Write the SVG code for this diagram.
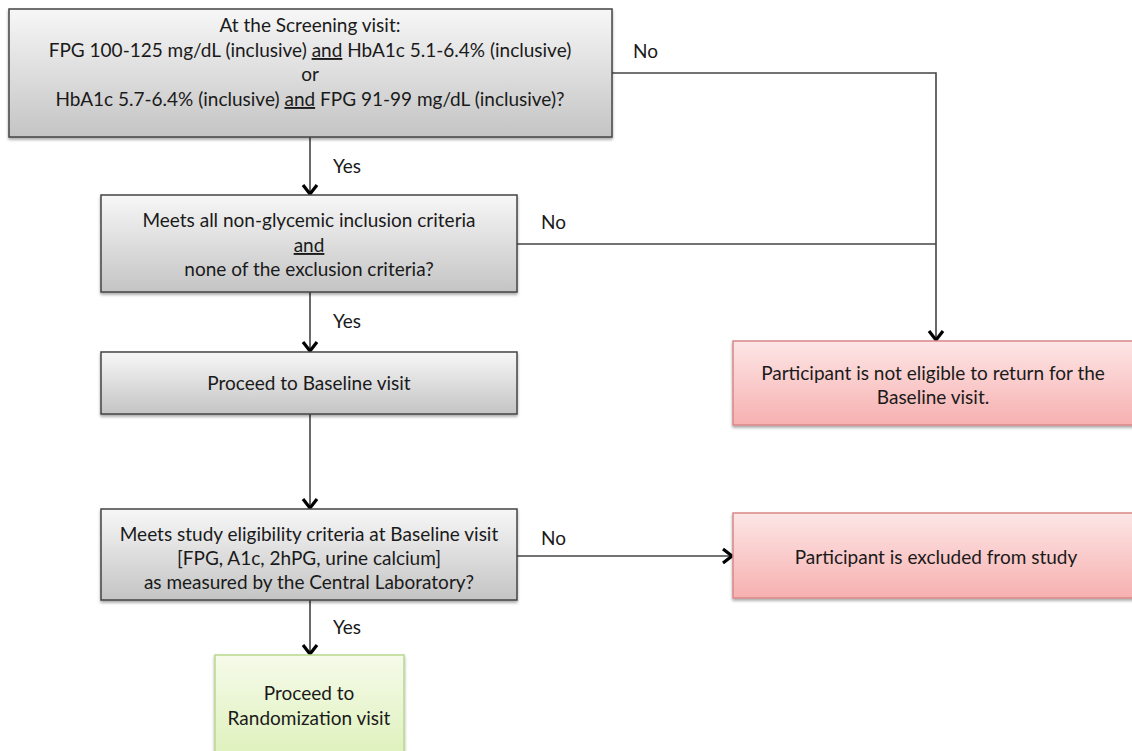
<svg xmlns="http://www.w3.org/2000/svg" width="1132" height="751" viewBox="0 0 1132 751">
<defs>
<linearGradient id="gGray" x1="0" y1="0" x2="0" y2="1">
<stop offset="0" stop-color="#f7f7f7"/><stop offset="1" stop-color="#c4c4c4"/>
</linearGradient>
<linearGradient id="gRed" x1="0" y1="0" x2="0" y2="1">
<stop offset="0" stop-color="#fde6e6"/><stop offset="1" stop-color="#f7b0b0"/>
</linearGradient>
<linearGradient id="gGreen" x1="0" y1="0" x2="0" y2="1">
<stop offset="0" stop-color="#f6fbea"/><stop offset="1" stop-color="#dcf0b8"/>
</linearGradient>
<filter id="sh" x="-5%" y="-10%" width="110%" height="125%">
<feGaussianBlur in="SourceAlpha" stdDeviation="1.5"/>
<feOffset dx="0" dy="2" result="b"/>
<feComponentTransfer><feFuncA type="linear" slope="0.35"/></feComponentTransfer>
<feMerge><feMergeNode/><feMergeNode in="SourceGraphic"/></feMerge>
</filter>
<marker id="arr" markerWidth="18" markerHeight="18" viewBox="0 0 18 18" refX="16" refY="9" orient="auto" markerUnits="userSpaceOnUse">
<path d="M7,2 L16,9 L7,16" fill="none" stroke="#000" stroke-width="3.2"/>
</marker>
</defs>
<style>
.gray{fill:url(#gGray);stroke:#444;stroke-width:1.5;filter:url(#sh)}
.red{fill:url(#gRed);stroke:#d98888;stroke-width:1.5;filter:url(#sh)}
.green{fill:url(#gGreen);stroke:#b9d98f;stroke-width:1.5;filter:url(#sh)}
text{font-family:Lato,"Liberation Sans",sans-serif;font-size:19px;fill:#1a1a1a;text-anchor:middle}
.lbl{text-anchor:start}
.u{text-decoration:underline}
.c{fill:none;stroke:#444;stroke-width:1.6}
</style>
<rect width="1132" height="751" fill="#fff"/>
<g id="connectors">
<path class="c" d="M310,137 V194" marker-end="url(#arr)"/>
<path class="c" d="M310,292 V351" marker-end="url(#arr)"/>
<path class="c" d="M310,414 V508" marker-end="url(#arr)"/>
<path class="c" d="M310,600 V654" marker-end="url(#arr)"/>
<path class="c" d="M612,73 H936 V340" marker-end="url(#arr)"/>
<path class="c" d="M517,244 H936"/>
<path class="c" d="M517,556 H732" marker-end="url(#arr)"/>
<text class="lbl" x="333" y="173">Yes</text>
<text class="lbl" x="333" y="328">Yes</text>
<text class="lbl" x="333" y="634">Yes</text>
<text class="lbl" x="633" y="58">No</text>
<text class="lbl" x="541" y="229">No</text>
<text class="lbl" x="541" y="545">No</text>
</g>
<g id="screening">
<rect class="gray" x="9" y="9" width="603" height="128"/>
<text x="310" y="32">At the Screening visit:</text>
<text x="310" y="57">FPG 100-125 mg/dL (inclusive) <tspan class="u">and</tspan> HbA1c 5.1-6.4% (inclusive)</text>
<text x="310" y="81">or</text>
<text x="310" y="106">HbA1c 5.7-6.4% (inclusive) <tspan class="u">and</tspan> FPG 91-99 mg/dL (inclusive)?</text>
</g>
<g id="criteria">
<rect class="gray" x="101" y="195" width="416" height="97"/>
<text x="309" y="227">Meets all non-glycemic inclusion criteria</text>
<text x="309" y="252" class="u">and</text>
<text x="309" y="276">none of the exclusion criteria?</text>
</g>
<g id="baseline">
<rect class="gray" x="101" y="352" width="416" height="62"/>
<text x="309" y="390">Proceed to Baseline visit</text>
</g>
<g id="eligibility">
<rect class="gray" x="101" y="509" width="416" height="91"/>
<text x="309" y="541">Meets study eligibility criteria at Baseline visit</text>
<text x="309" y="565">[FPG, A1c, 2hPG, urine calcium]</text>
<text x="309" y="589">as measured by the Central Laboratory?</text>
</g>
<g id="randomization">
<rect class="green" x="215" y="655" width="189" height="110"/>
<text x="309" y="700">Proceed to</text>
<text x="309" y="725">Randomization visit</text>
</g>
<g id="not-eligible">
<rect class="red" x="733" y="341" width="405" height="84"/>
<text x="933" y="380">Participant is not eligible to return for the</text>
<text x="933" y="404">Baseline visit.</text>
</g>
<g id="excluded">
<rect class="red" x="733" y="513" width="405" height="85"/>
<text x="936" y="564">Participant is excluded from study</text>
</g>
</svg>
